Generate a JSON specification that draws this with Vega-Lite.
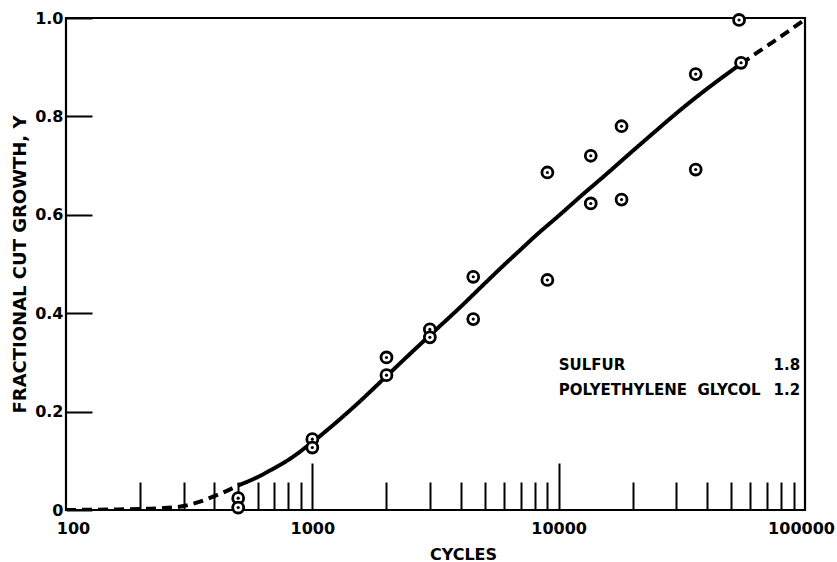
{
  "$schema": "https://vega.github.io/schema/vega-lite/v6.json",
  "width": 739,
  "height": 492,
  "autosize": {"type": "none"},
  "padding": {"left": 66, "top": 18, "right": 32, "bottom": 52},
  "background": "white",
  "config": {
    "view": {"stroke": "black", "strokeWidth": 2.2},
    "font": "DejaVu Sans",
    "axis": {"grid": false, "domain": false, "labelFont": "DejaVu Sans", "labelFontWeight": "bold", "labelColor": "black", "titleColor": "black", "titleFont": "DejaVu Sans", "titleFontWeight": "bold", "tickColor": "black", "tickWidth": 2}
  },
  "datasets": {
    "curve": [
      {"cycles": 100, "y": 0.0, "part": "low", "kind": "extrapolated"},
      {"cycles": 150, "y": 0.001, "part": "low", "kind": "extrapolated"},
      {"cycles": 200, "y": 0.002, "part": "low", "kind": "extrapolated"},
      {"cycles": 250, "y": 0.004, "part": "low", "kind": "extrapolated"},
      {"cycles": 300, "y": 0.008, "part": "low", "kind": "extrapolated"},
      {"cycles": 350, "y": 0.017, "part": "low", "kind": "extrapolated"},
      {"cycles": 400, "y": 0.028, "part": "low", "kind": "extrapolated"},
      {"cycles": 450, "y": 0.039, "part": "low", "kind": "extrapolated"},
      {"cycles": 500, "y": 0.05, "part": "low", "kind": "extrapolated"},
      {"cycles": 500, "y": 0.05, "part": "fit", "kind": "fitted"},
      {"cycles": 600, "y": 0.067, "part": "fit", "kind": "fitted"},
      {"cycles": 700, "y": 0.085, "part": "fit", "kind": "fitted"},
      {"cycles": 800, "y": 0.102, "part": "fit", "kind": "fitted"},
      {"cycles": 1000, "y": 0.138, "part": "fit", "kind": "fitted"},
      {"cycles": 1250, "y": 0.178, "part": "fit", "kind": "fitted"},
      {"cycles": 1500, "y": 0.213, "part": "fit", "kind": "fitted"},
      {"cycles": 2000, "y": 0.272, "part": "fit", "kind": "fitted"},
      {"cycles": 2500, "y": 0.318, "part": "fit", "kind": "fitted"},
      {"cycles": 3000, "y": 0.355, "part": "fit", "kind": "fitted"},
      {"cycles": 4000, "y": 0.413, "part": "fit", "kind": "fitted"},
      {"cycles": 5000, "y": 0.46, "part": "fit", "kind": "fitted"},
      {"cycles": 6000, "y": 0.498, "part": "fit", "kind": "fitted"},
      {"cycles": 7000, "y": 0.529, "part": "fit", "kind": "fitted"},
      {"cycles": 8000, "y": 0.556, "part": "fit", "kind": "fitted"},
      {"cycles": 10000, "y": 0.598, "part": "fit", "kind": "fitted"},
      {"cycles": 12500, "y": 0.641, "part": "fit", "kind": "fitted"},
      {"cycles": 15000, "y": 0.675, "part": "fit", "kind": "fitted"},
      {"cycles": 20000, "y": 0.73, "part": "fit", "kind": "fitted"},
      {"cycles": 25000, "y": 0.772, "part": "fit", "kind": "fitted"},
      {"cycles": 30000, "y": 0.806, "part": "fit", "kind": "fitted"},
      {"cycles": 40000, "y": 0.856, "part": "fit", "kind": "fitted"},
      {"cycles": 50000, "y": 0.892, "part": "fit", "kind": "fitted"},
      {"cycles": 55000, "y": 0.907, "part": "fit", "kind": "fitted"},
      {"cycles": 55000, "y": 0.907, "part": "high", "kind": "extrapolated"},
      {"cycles": 65000, "y": 0.932, "part": "high", "kind": "extrapolated"},
      {"cycles": 75000, "y": 0.953, "part": "high", "kind": "extrapolated"},
      {"cycles": 85000, "y": 0.972, "part": "high", "kind": "extrapolated"},
      {"cycles": 100000, "y": 0.997, "part": "high", "kind": "extrapolated"}
    ],
    "obs": [
      {"cycles": 500, "y": 0.024},
      {"cycles": 500, "y": 0.005},
      {"cycles": 1000, "y": 0.144},
      {"cycles": 1000, "y": 0.127},
      {"cycles": 2000, "y": 0.31},
      {"cycles": 2000, "y": 0.274},
      {"cycles": 3000, "y": 0.367},
      {"cycles": 3000, "y": 0.351},
      {"cycles": 4500, "y": 0.474},
      {"cycles": 4500, "y": 0.388},
      {"cycles": 9000, "y": 0.686},
      {"cycles": 9000, "y": 0.4675},
      {"cycles": 13500, "y": 0.72},
      {"cycles": 13500, "y": 0.623},
      {"cycles": 18000, "y": 0.78},
      {"cycles": 18000, "y": 0.631},
      {"cycles": 36000, "y": 0.886},
      {"cycles": 36000, "y": 0.692},
      {"cycles": 54000, "y": 0.996},
      {"cycles": 55000, "y": 0.909}
    ],
    "notes": [
      {"cycles": 10000, "y": 0.295, "text": "SULFUR", "side": "name"},
      {"cycles": 95500, "y": 0.295, "text": "1.8", "side": "value"},
      {"cycles": 10000, "y": 0.244, "text": "POLYETHYLENE\u00a0\u00a0GLYCOL", "side": "name"},
      {"cycles": 95500, "y": 0.244, "text": "1.2", "side": "value"}
    ]
  },
  "layer": [
    {
      "data": {"name": "curve"},
      "mark": {"type": "line", "color": "black", "strokeWidth": 4, "clip": true, "interpolate": "monotone"},
      "encoding": {
        "x": {
          "field": "cycles", "type": "quantitative",
          "scale": {"type": "log", "domain": [100, 100000]},
          "axis": {
            "values": [100, 200, 300, 400, 500, 600, 700, 800, 900, 1000, 2000, 3000, 4000, 5000, 6000, 7000, 8000, 9000, 10000, 20000, 30000, 40000, 50000, 60000, 70000, 80000, 90000, 100000],
            "tickSize": {"condition": {"test": "datum.value == 1000 || datum.value == 10000", "value": -47}, "value": -28},
            "tickOpacity": {"condition": {"test": "datum.value == 100 || datum.value == 100000", "value": 0}, "value": 1},
            "labelExpr": "(datum.value == 100 || datum.value == 1000 || datum.value == 10000 || datum.value == 100000) ? format(datum.value, 'd') : ''",
            "labelFontSize": 16,
            "labelOverlap": false,
            "labelFlush": false,
            "labelBound": false,
            "labelPadding": {"condition": {"test": "datum.value == 1000 || datum.value == 10000", "value": 57}, "value": 38},
            "labelOffset": {"condition": [{"test": "datum.value == 100", "value": 7}, {"test": "datum.value == 100000", "value": -4}], "value": 0},
            "title": "CYCLES",
            "titleFontSize": 16,
            "titleX": 397,
            "titleY": 52,
            "titleBaseline": "bottom",
            "titleAlign": "center",
            "titleAnchor": null
          }
        },
        "y": {
          "field": "y", "type": "quantitative",
          "scale": {"domain": [0, 1]},
          "axis": {
            "values": [0, 0.2, 0.4, 0.6, 0.8, 1.0],
            "tickSize": -26,
            "labelExpr": "datum.value == 0 ? '0' : format(datum.value, '.1f')",
            "labelFontSize": 16,
            "labelPadding": 29,
            "labelBaseline": "middle",
            "title": "FRACTIONAL CUT GROWTH, Y",
            "titleFontSize": 18,
            "titleX": -46,
            "titleY": 246,
            "titleAngle": -90,
            "titleAlign": "center",
            "titleBaseline": "middle",
            "titleAnchor": null
          }
        },
        "strokeDash": {"field": "kind", "type": "nominal", "scale": {"domain": ["fitted", "extrapolated"], "range": [[1, 0], [10, 6]]}, "legend": null},
        "detail": {"field": "part"}
      }
    },
    {
      "data": {"name": "obs"},
      "mark": {"type": "point", "shape": "circle", "filled": false, "fill": "white", "fillOpacity": 1, "stroke": "black", "strokeWidth": 2.8, "size": 120, "opacity": 1},
      "encoding": {
        "x": {"field": "cycles", "type": "quantitative"},
        "y": {"field": "y", "type": "quantitative"}
      }
    },
    {
      "data": {"name": "obs"},
      "mark": {"type": "circle", "color": "black", "size": 10, "opacity": 1},
      "encoding": {
        "x": {"field": "cycles", "type": "quantitative"},
        "y": {"field": "y", "type": "quantitative"}
      }
    },
    {
      "data": {"name": "notes"},
      "transform": [{"filter": "datum.side == 'name'"}],
      "mark": {"type": "text", "align": "left", "baseline": "middle", "font": "DejaVu Sans", "fontWeight": "bold", "fontSize": 15, "color": "black"},
      "encoding": {
        "x": {"field": "cycles", "type": "quantitative"},
        "y": {"field": "y", "type": "quantitative"},
        "text": {"field": "text"}
      }
    },
    {
      "data": {"name": "notes"},
      "transform": [{"filter": "datum.side == 'value'"}],
      "mark": {"type": "text", "align": "right", "baseline": "middle", "font": "DejaVu Sans", "fontWeight": "bold", "fontSize": 15, "color": "black"},
      "encoding": {
        "x": {"field": "cycles", "type": "quantitative"},
        "y": {"field": "y", "type": "quantitative"},
        "text": {"field": "text"}
      }
    }
  ]
}
